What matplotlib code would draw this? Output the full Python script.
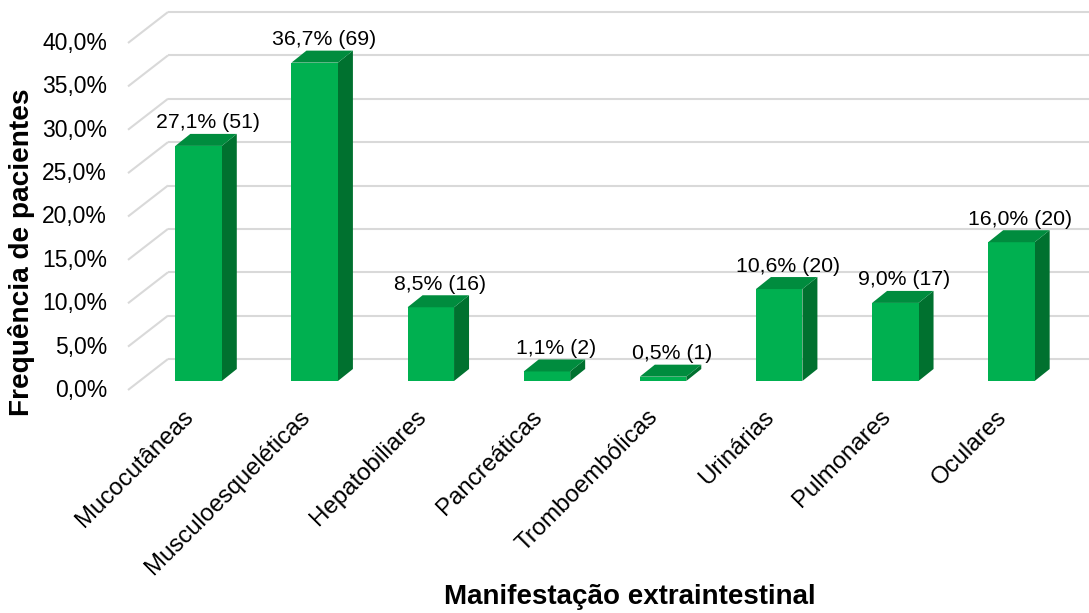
import matplotlib
matplotlib.use("Agg")
import matplotlib.pyplot as plt
from matplotlib.patches import Polygon

plt.rcParams['font.family'] = ['Liberation Sans', 'DejaVu Sans']

categorias = ["Mucocutâneas", "Musculoesqueléticas", "Hepatobiliares", "Pancreáticas",
              "Tromboembólicas", "Urinárias", "Pulmonares", "Oculares"]
percentuais = [27.1, 36.7, 8.5, 1.1, 0.5, 10.6, 9.0, 16.0]
pacientes = [51, 69, 16, 2, 1, 20, 17, 20]
ticks_y = [0, 5, 10, 15, 20, 25, 30, 35, 40]

cor_frente = '#00B050'
cor_topo = '#008C3E'
cor_lado = '#00712F'
cor_grade = '#D9D9D9'

W, H = 1089, 613
fig = plt.figure(figsize=(W / 100, H / 100), dpi=100)

# plano das barras (em pixels da figura)
ax_left, ax_bottom, ax_w, ax_h = 140.5, 232, 929, 347
ax = fig.add_axes([ax_left / W, ax_bottom / H, ax_w / W, ax_h / H])
ax.set_xlim(-0.5, len(categorias) - 0.5)
ax.set_ylim(0, 40)
ax.axis('off')

ux = ax_w / len(categorias)   # px por categoria
uy = ax_h / 40                # px por ponto percentual


def px(dx, dy):
    # deslocamento em pixels -> unidades de dados
    return dx / ux, dy / uy


# grade: parede esquerda (diagonal) + parede do fundo (horizontal)
fx, fy = px(-12.5, -9)
bx, by = px(27.5, 22)
x0, x1 = -0.5, len(categorias) - 0.5
for t in ticks_y:
    ax.plot([x0 + fx, x0 + bx], [t + fy, t + by], color=cor_grade, lw=1.5,
            clip_on=False, zorder=0, solid_capstyle='butt')
    ax.plot([x0 + bx, x1 + bx], [t + by, t + by], color=cor_grade, lw=1.5,
            clip_on=False, zorder=0, solid_capstyle='butt')
    lx, ly = px(-33.5, -9.5)
    ax.text(x0 + lx, t + ly, f"{t:.1f}%".replace('.', ','), ha='right', va='center',
            fontsize=16.5, color='black')

# barras 3D
w = 0.4
ddx, ddy = px(15, 12)
xs = list(range(len(categorias)))
ax.bar(xs, percentuais, width=w, color=cor_frente, zorder=3, clip_on=False)
for x, v, n in zip(xs, percentuais, pacientes):
    xl, xr = x - w / 2, x + w / 2
    lado = Polygon([(xr, 0), (xr + ddx, ddy), (xr + ddx, v + ddy), (xr, v)],
                   closed=True, facecolor=cor_lado, edgecolor='none', zorder=2,
                   clip_on=False)
    topo = Polygon([(xl, v), (xr, v), (xr + ddx, v + ddy), (xl + ddx, v + ddy)],
                   closed=True, facecolor=cor_topo, edgecolor='none', zorder=4,
                   clip_on=False)
    ax.add_patch(lado)
    ax.add_patch(topo)
    tx, ty = px(9, 23)
    ax.text(x + tx, v + ty, f"{v:.1f}% ({n})".replace('.', ','), ha='center',
            va='center', fontsize=15.3, color='black')

# rótulos das categorias
cx, cy = px(-16, -25)
for x, c in zip(xs, categorias):
    ax.text(x + cx, cy, c, rotation=45, rotation_mode='anchor', ha='right',
            va='top', fontsize=17.3, color='black')

fig.text(22 / W, 1 - 252 / H, "Frequência de pacientes", rotation=90, ha='center',
         va='center', fontsize=20.2, fontweight='bold')
fig.text(630 / W, 1 - 597 / H, "Manifestação extraintestinal", ha='center',
         va='center', fontsize=20, fontweight='bold')

fig.savefig("out.png", dpi=100, facecolor='white')
